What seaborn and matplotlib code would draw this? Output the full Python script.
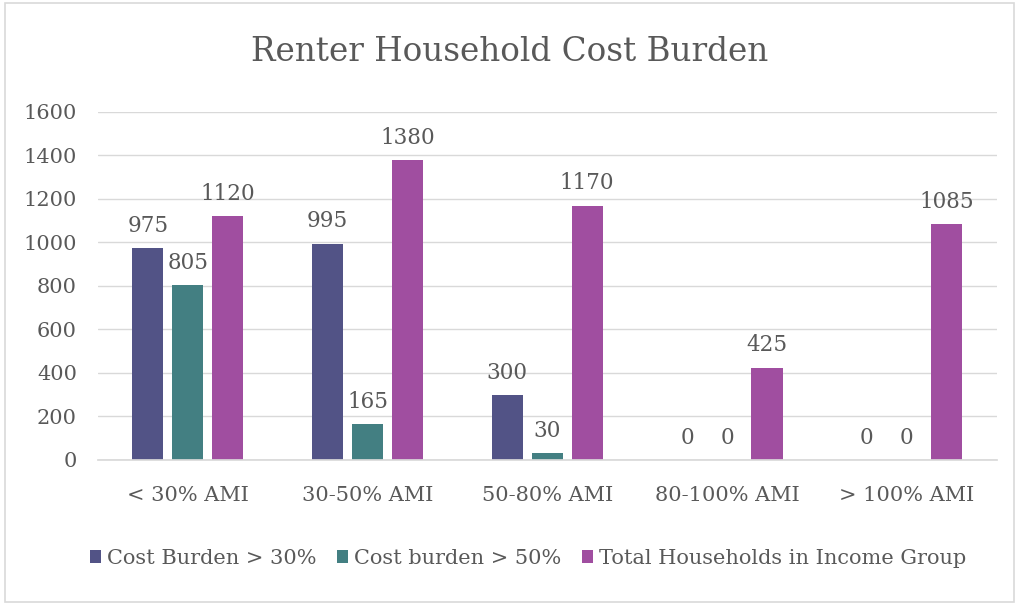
import matplotlib
matplotlib.use("Agg")
import matplotlib.pyplot as plt
import seaborn as sns
import pandas as pd
from matplotlib.patches import Rectangle

categories = ["< 30% AMI", "30-50% AMI", "50-80% AMI", "80-100% AMI", "> 100% AMI"]
series_names = ["Cost Burden > 30%", "Cost burden > 50%", "Total Households in Income Group"]
cost_burden_30 = [975, 995, 300, 0, 0]
cost_burden_50 = [805, 165, 30, 0, 0]
total_households = [1120, 1380, 1170, 425, 1085]
colors = ["#525386", "#437F82", "#A04EA0"]

rows = []
for name, vals in zip(series_names, [cost_burden_30, cost_burden_50, total_households]):
    for c, v in zip(categories, vals):
        rows.append({"Category": c, "Series": name, "Value": v})
df = pd.DataFrame(rows)

sns.set_theme(style="white")
plt.rcParams['font.family'] = ['DejaVu Serif']
text_color = "#595959"

fig = plt.figure(figsize=(10.19, 6.05), dpi=100)
ax = fig.add_axes([0.096, 0.2397, 0.882, 0.5752])

sns.barplot(data=df, x="Category", y="Value", hue="Series", order=categories,
            hue_order=series_names, palette=colors, width=0.667, gap=0.22,
            saturation=1, ax=ax, legend=True, linewidth=0)

for cont in ax.containers:
    ax.bar_label(cont, fmt="%d", padding=8, fontsize=15.5, color=text_color)

ax.set_ylim(0, 1600)
ax.set_yticks(range(0, 1601, 200))
ax.yaxis.grid(True, color="#D9D9D9", linewidth=1)
ax.set_axisbelow(True)
for s in ["top", "right", "left"]:
    ax.spines[s].set_visible(False)
ax.spines["bottom"].set_color("#D9D9D9")
ax.tick_params(axis="y", labelsize=15, colors=text_color, length=0, pad=15)
ax.tick_params(axis="x", labelsize=15, colors=text_color, length=0, pad=19)
ax.set_xlabel("")
ax.set_ylabel("")
ax.set_xlim(-0.5, 4.5)

leg = ax.legend(loc="center", bbox_to_anchor=(0.479, -0.282), ncol=3, frameon=False,
                fontsize=15, handlelength=0.5, handleheight=0.6, handletextpad=0.3,
                columnspacing=1.0, labelcolor=text_color)

fig.text(0.5, 0.914, "Renter Household Cost Burden", ha="center", va="center",
         fontsize=23.5, color=text_color)

fig.patches.append(Rectangle((0.005, 0.005), 0.99, 0.99, transform=fig.transFigure,
                             fill=False, edgecolor="#D9D9D9", linewidth=1.2))

fig.savefig("out.png", dpi=100)
